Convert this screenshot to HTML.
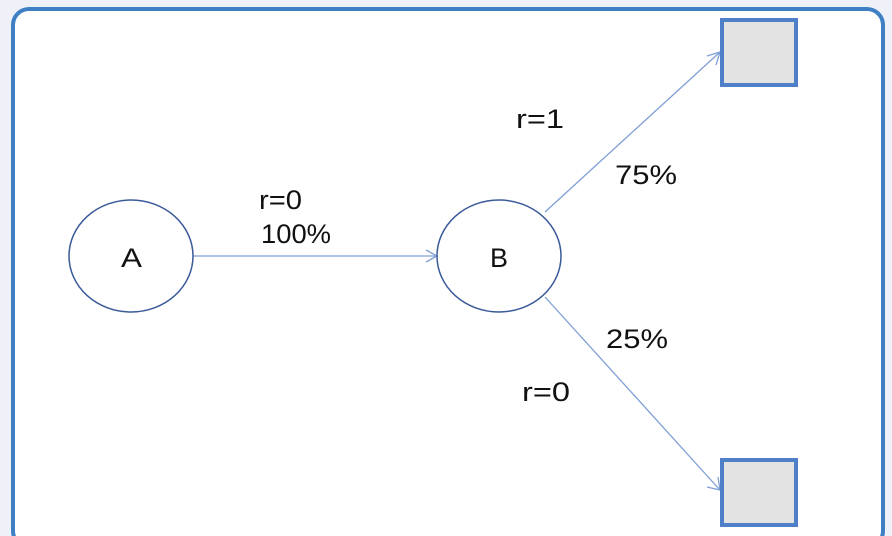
<!DOCTYPE html>
<html><head><meta charset="utf-8"><style>
html,body{margin:0;padding:0;background:#eef2f8;overflow:hidden;width:892px;height:536px;}
svg{display:block}
text{font-family:"Liberation Sans",sans-serif;font-size:27px;fill:#111;}
</style></head><body>
<svg width="892" height="536" viewBox="0 0 892 536" xmlns="http://www.w3.org/2000/svg">
<rect x="0" y="0" width="892" height="536" fill="#eef2f8"/>
<rect x="13" y="9" width="870" height="538" rx="16" ry="16" fill="#fff" stroke="#3f7fc4" stroke-width="4"/>
<g stroke="#7f9fd6" stroke-width="1.3" fill="none">
<line x1="193" y1="256" x2="437" y2="256"/>
<polyline points="426,250 437,256 426,262"/>
<line x1="545" y1="212" x2="720" y2="52"/>
<polyline points="707,56 720,52 716,65"/>
<line x1="545" y1="297" x2="720" y2="490"/>
<polyline points="707,487 720,490 718,477"/>
</g>
<ellipse cx="131" cy="256" rx="62" ry="56" fill="#fff" stroke="#3a5a9a" stroke-width="1.5"/>
<ellipse cx="499" cy="256" rx="62" ry="56" fill="#fff" stroke="#3a5a9a" stroke-width="1.5"/>
<rect x="722" y="20" width="74" height="65" fill="#e3e3e3" stroke="#4f7fc9" stroke-width="4"/>
<rect x="722" y="460" width="74" height="65" fill="#e3e3e3" stroke="#4f7fc9" stroke-width="4"/>
<text x="121" y="267" textLength="21" lengthAdjust="spacingAndGlyphs">A</text>
<text x="490" y="267" textLength="18" lengthAdjust="spacingAndGlyphs">B</text>
<text x="259" y="209" textLength="43" lengthAdjust="spacingAndGlyphs">r=0</text>
<text x="261" y="243" textLength="70" lengthAdjust="spacingAndGlyphs">100%</text>
<text x="516" y="128" textLength="48" lengthAdjust="spacingAndGlyphs">r=1</text>
<text x="615" y="184" textLength="62" lengthAdjust="spacingAndGlyphs">75%</text>
<text x="606" y="348" textLength="62" lengthAdjust="spacingAndGlyphs">25%</text>
<text x="522" y="401" textLength="48" lengthAdjust="spacingAndGlyphs">r=0</text>
</svg>
</body></html>
